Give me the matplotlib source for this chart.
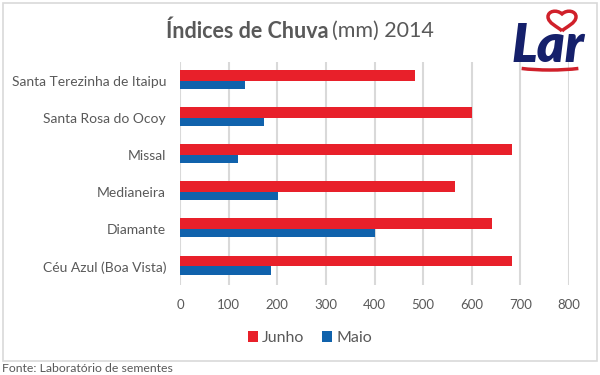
import numpy as np
import matplotlib.pyplot as plt
from matplotlib.patches import Rectangle, Arc, PathPatch
from matplotlib.path import Path

cidades = ['Santa Terezinha de Itaipu', 'Santa Rosa do Ocoy', 'Missal',
           'Medianeira', 'Diamante', 'Céu Azul (Boa Vista)']
junho = [484, 601, 683, 566, 642, 683]
maio = [134, 173, 119, 201, 402, 187]
xticks = [0, 100, 200, 300, 400, 500, 600, 700, 800]

red = '#E8202A'
blue = '#1062AC'
gray = '#595959'

plt.rcParams['font.family'] = ['Lato', 'DejaVu Sans']

fig = plt.figure(figsize=(6, 3.75), dpi=100)
fig.patch.set_facecolor('white')

# chart border
fig.patches.append(Rectangle((3 / 600, 1 - 361 / 375), 594 / 600, 358 / 375,
                             transform=fig.transFigure, fill=False,
                             edgecolor='#D9D9D9', linewidth=1.2))

ax = fig.add_axes([180 / 600, 1 - 285 / 375, 389 / 600, 223 / 375])
y = np.arange(len(cidades))
h_r, h_b = 0.29, 0.22
ax.barh(y - h_r / 2, junho, height=h_r, color=red, label='Junho', zorder=3)
ax.barh(y + h_b / 2, maio, height=h_b, color=blue, label='Maio', zorder=3)

ax.set_xlim(0, 800)
ax.set_ylim(len(cidades) - 0.5, -0.5)
ax.set_xticks(xticks)
ax.set_yticks(y)
ax.set_yticklabels(cidades)
ax.tick_params(axis='y', length=0, pad=10, labelsize=10, labelcolor=gray)
ax.tick_params(axis='x', length=0, pad=10, labelsize=9.5, labelcolor=gray)
ax.grid(axis='x', color='#D9D9D9', linewidth=1.5, zorder=0)
for s in ax.spines.values():
    s.set_visible(False)

# title: bold part + regular part
fig.text(328 / 600, 1 - 31 / 375, 'Índices de Chuva', ha='right', va='center',
         fontsize=15.5, fontweight='bold', color=gray)
fig.text(332 / 600, 1 - 31 / 375, '(mm) 2014', ha='left', va='center',
         fontsize=15.5, color=gray)

leg = fig.legend(loc='center', bbox_to_anchor=(310 / 600, 1 - 338 / 375),
                 ncol=2, frameon=False, fontsize=11.5, handlelength=0.65,
                 handleheight=0.65, handletextpad=0.25, columnspacing=1.1)
for t in leg.get_texts():
    t.set_color(gray)

fig.text(2 / 600, 1 - 369 / 375, 'Fonte: Laboratório de sementes', ha='left',
         va='center', fontsize=8.8, color=gray)

# logo: "Lar" with red heart outline and swoosh
fig.text(548 / 600, 1 - 47 / 375, 'Lar', ha='center', va='center',
         fontsize=38, fontweight='heavy', fontstyle='italic', color='#15206B')
hx, hy, sx, sy = 562, 20, 14, 11
heart = [(0, -1), (-0.3, -0.6), (-1, -0.3), (-1, 0.3),
         (-1, 0.8), (-0.4, 1.0), (0, 0.55),
         (0.4, 1.0), (1, 0.8), (1, 0.3),
         (1, -0.3), (0.3, -0.6), (0, -1)]
verts = [((hx + sx * u) / 600, 1 - (hy - sy * v) / 375) for u, v in heart]
codes = [Path.MOVETO] + [Path.CURVE4] * 12
fig.patches.append(PathPatch(Path(verts, codes), transform=fig.transFigure,
                             fill=False, edgecolor='#D0202A', linewidth=2.5))
fig.patches.append(Arc((550 / 600, 1 - 62 / 375), 96 / 600, 16 / 375,
                       theta1=200, theta2=340, transform=fig.transFigure,
                       color='#D0202A', linewidth=2.5))

fig.savefig('out.png', dpi=100)
